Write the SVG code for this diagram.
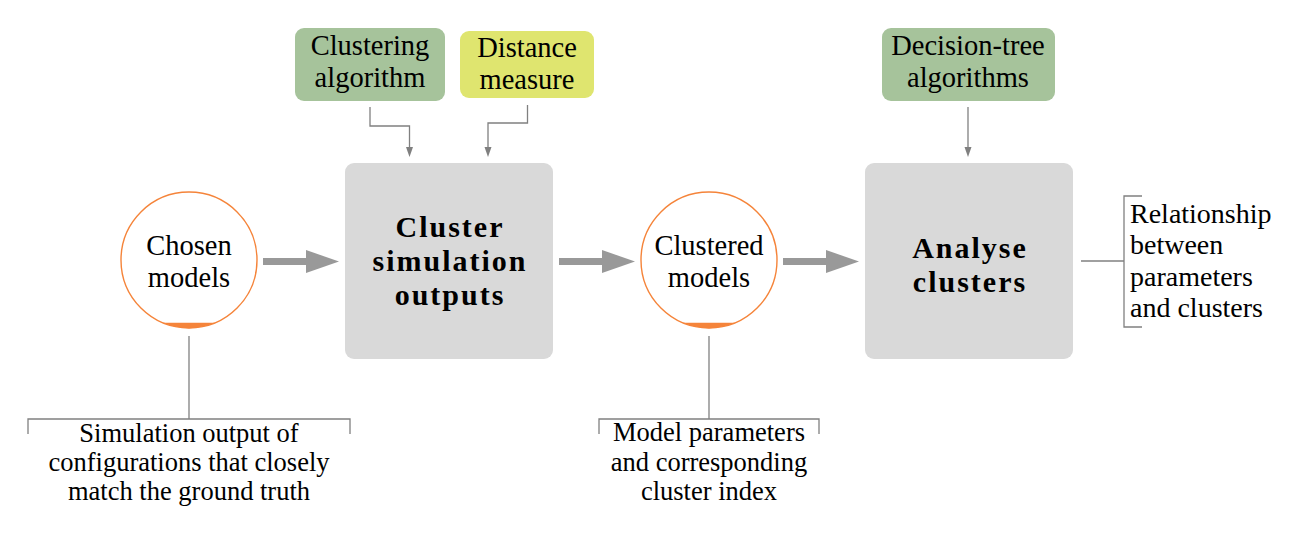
<svg xmlns="http://www.w3.org/2000/svg" width="1313" height="536" viewBox="0 0 1313 536" font-family="Liberation Serif, serif">
<defs>
<style>
.txtmain{font-family:'Liberation Serif',serif;font-size:28.5px;fill:#000;text-anchor:middle}
.txtnote{font-family:'Liberation Serif',serif;font-size:26.5px;fill:#000;text-anchor:middle}
.txtbold{font-family:'Liberation Serif',serif;font-size:30px;font-weight:bold;letter-spacing:2px;fill:#000;text-anchor:middle}
.txtside{font-family:'Liberation Serif',serif;font-size:28px;fill:#000;text-anchor:start}
.circ{fill:#fff;stroke:#f5843a;stroke-width:1.4}
.seg{fill:#f5843a}
.box{fill:#d9d9d9}
.green{fill:#a6c39b}
.yellow{fill:#dfe56f}
.thin{fill:none;stroke:#808080;stroke-width:1.3}
.thick{fill:none;stroke:#999999;stroke-width:7}
</style>
<marker id="big" markerUnits="userSpaceOnUse" markerWidth="34" markerHeight="24" refX="0" refY="12" orient="auto">
<path d="M0,0.5 L33,12 L0,23.5 z" fill="#999999"/>
</marker>
<marker id="small" markerUnits="userSpaceOnUse" markerWidth="10" markerHeight="8" refX="0" refY="4" orient="auto">
<path d="M0,0.5 L10,4 L0,7.5 z" fill="#808080"/>
</marker>
</defs>
<rect width="1313" height="536" fill="#fff"/>

<g id="chosen">
<circle class="circ" cx="189" cy="260" r="68"/>
<path class="seg" d="M163,322.8 A68,68 0 0 0 215,322.8 Z"/>
<text class="txtmain" x="189" y="255">Chosen</text>
<text class="txtmain" x="189" y="287">models</text>
</g>

<g id="cluster-sim">
<rect class="box" x="345" y="163" width="208" height="196" rx="9"/>
<text class="txtbold" x="450" y="237">Cluster</text>
<text class="txtbold" x="450" y="271">simulation</text>
<text class="txtbold" x="450" y="305">outputs</text>
</g>

<g id="clustered">
<circle class="circ" cx="709" cy="260" r="68"/>
<path class="seg" d="M683,322.8 A68,68 0 0 0 735,322.8 Z"/>
<text class="txtmain" x="709" y="255">Clustered</text>
<text class="txtmain" x="709" y="287">models</text>
</g>

<g id="analyse">
<rect class="box" x="865" y="163" width="208" height="196" rx="9"/>
<text class="txtbold" x="970" y="258">Analyse</text>
<text class="txtbold" x="970" y="292">clusters</text>
</g>

<g id="clustering-algorithm">
<rect class="green" x="295" y="28" width="150" height="73" rx="9"/>
<text class="txtmain" x="370" y="55">Clustering</text>
<text class="txtmain" x="370" y="87">algorithm</text>
</g>

<g id="distance-measure">
<rect class="yellow" x="460" y="31" width="134" height="67" rx="9"/>
<text class="txtmain" x="527" y="57">Distance</text>
<text class="txtmain" x="527" y="89">measure</text>
</g>

<g id="decision-tree">
<rect class="green" x="882" y="28" width="173" height="73" rx="9"/>
<text class="txtmain" x="968" y="55">Decision-tree</text>
<text class="txtmain" x="968" y="87">algorithms</text>
</g>

<g id="note-simulation">
<text class="txtnote" x="189" y="442">Simulation output of</text>
<text class="txtnote" x="189" y="471">configurations that closely</text>
<text class="txtnote" x="189" y="500">match the ground truth</text>
</g>

<g id="note-parameters">
<text class="txtnote" x="709" y="441">Model parameters</text>
<text class="txtnote" x="709" y="471">and corresponding</text>
<text class="txtnote" x="709" y="500">cluster index</text>
</g>

<g id="note-relationship">
<text class="txtside" x="1130" y="223">Relationship</text>
<text class="txtside" x="1130" y="254">between</text>
<text class="txtside" x="1130" y="286">parameters</text>
<text class="txtside" x="1130" y="317">and clusters</text>
</g>

<g id="connectors">
<line class="thick" x1="263" y1="261.5" x2="306" y2="261.5" marker-end="url(#big)"/>
<line class="thick" x1="559" y1="261.5" x2="602" y2="261.5" marker-end="url(#big)"/>
<line class="thick" x1="783" y1="261.5" x2="826" y2="261.5" marker-end="url(#big)"/>
<polyline class="thin" points="370,107 370,126 409.5,126 409.5,147" marker-end="url(#small)"/>
<polyline class="thin" points="527.5,105 527.5,123 488,123 488,147" marker-end="url(#small)"/>
<line class="thin" x1="968" y1="107" x2="968" y2="147" marker-end="url(#small)"/>
<line class="thin" x1="189" y1="336" x2="189" y2="419"/>
<polyline class="thin" points="28,434 28,419 350,419 350,434"/>
<line class="thin" x1="709" y1="336" x2="709" y2="419"/>
<polyline class="thin" points="599,434 599,419 819,419 819,434"/>
<line class="thin" x1="1081" y1="261" x2="1124" y2="261"/>
<polyline class="thin" points="1142,196 1124,196 1124,327 1142,327"/>
</g>
</svg>
